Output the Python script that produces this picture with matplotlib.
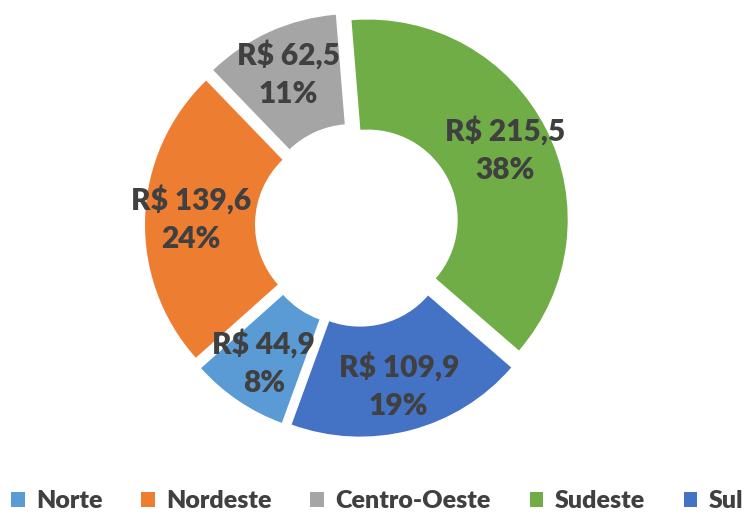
import matplotlib
matplotlib.use("Agg")
import matplotlib.pyplot as plt
import numpy as np

categories = ["Norte", "Nordeste", "Centro-Oeste", "Sudeste", "Sul"]
values = [44.9, 139.6, 62.5, 215.5, 109.9]
colors = ["#5B9BD5", "#ED7D31", "#A5A5A5", "#70AD47", "#4472C4"]

plt.rcParams['font.family'] = ['Lato', 'DejaVu Sans']
text_color = "#404040"

W, H = 754, 517
fig = plt.figure(figsize=(W / 100, H / 100), dpi=100)
cx, cy = 357, 517 - 225
ppu = 200
half = 1.2
ax = fig.add_axes([(cx - half * ppu) / W, (cy - half * ppu) / H,
                   2 * half * ppu / W, 2 * half * ppu / H])

expl = 0.06
wedges, _ = ax.pie(values, colors=colors, startangle=-110, counterclock=False,
                   explode=[expl] * len(values),
                   wedgeprops=dict(width=0.55, edgecolor='none'))
ax.set_xlim(-half, half)
ax.set_ylim(-half, half)
ax.set_aspect('equal')
ax.axis('off')

total = sum(values)
for w, v in zip(wedges, values):
    ang = np.deg2rad((w.theta1 + w.theta2) / 2)
    r = 0.77 + expl
    x, y = r * np.cos(ang), r * np.sin(ang)
    label = ("R$ " + f"{v:.1f}".replace('.', ',') + "\n" + f"{v / total * 100:.0f}%")
    ax.text(x, y, label, ha='center', va='center', fontsize=21.5, fontweight='heavy',
            color=text_color, linespacing=1.45)

leg = fig.legend(wedges, categories, loc='center', bbox_to_anchor=(0.5, 0.03),
                 ncol=5, frameon=False, handlelength=0.55, handleheight=0.55,
                 handletextpad=0.45, columnspacing=1.55,
                 prop=dict(family=['Lato', 'DejaVu Sans'], weight='heavy', size=18))
for t in leg.get_texts():
    t.set_color(text_color)

fig.savefig("out.png", dpi=100, facecolor='white')
